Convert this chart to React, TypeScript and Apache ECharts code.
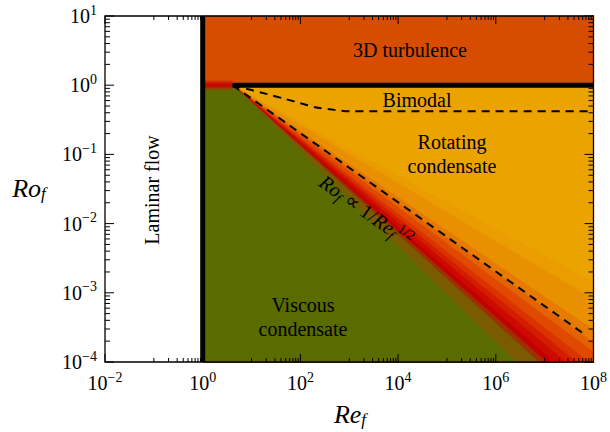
import React, { useEffect, useRef } from 'react';
import * as echarts from 'echarts';

const SERIF = 'Liberation Serif';

// axis decades (exponents of the major tick labels)
const reExponents = [-2, 0, 2, 4, 6, 8];
const roExponents = [-4, -3, -2, -1, 0, 1];
const minorMultipliers = [2, 3, 4, 5, 6, 7, 8, 9];

// regime boundaries
const laminarRe = 1; // Re_f below which the flow is laminar
const turbulenceRo = 1; // Ro_f above which 3D turbulence
const cornerRe = 4.1; // Re_f where the Ro_f = 1 boundary starts

// bimodal boundary (dashed)
const bimodalRe = [4.1, 10, 20, 50, 100, 200, 500, 1000, 1e8];
const bimodalRo = [1, 0.85, 0.75, 0.63, 0.55, 0.48, 0.44, 0.42, 0.42];

// Ro_f ∝ Re_f^-1/2 scaling (dashed)
const scalingRe = [4.1, 7.2e7];
const scalingRo = [1, 2.4e-4];

// condensate transition bands: where each boundary meets the right / bottom edge
const bandEndRe = [1e8, 1e8, 1e8, 1e8, 1e8, 7.9e7, 4.5e7, 2.7e7, 1.6e7, 1.1e7, 7.6e6, 2.6e6];
const bandEndRo = [1.4e-3, 8e-4, 2.9e-4, 1.9e-4, 1.4e-4, 1e-4, 1e-4, 1e-4, 1e-4, 1e-4, 1e-4, 1e-4];
const bandColors = ['#EA9C00', '#E89000', '#E67B00', '#E36300', '#E04A00', '#DB3300', '#D41C00', '#CC0A00', '#C20000', '#A02E00', '#7B5B00', '#5A6B00'];

// transition strip just around Ro_f = 1 for laminarRe < Re_f < cornerRe
const stripRo = [1.2, 0.8];

const turbulenceColor = '#D64C00';
const rotatingColor = '#EBA300';

const L = Math.log10;
const xMin = reExponents[0];
const xMax = reExponents[reExponents.length - 1];
const yMin = roExponents[0];
const yMax = roExponents[roExponents.length - 1];

type Poly = { pts: number[][]; fill: any; stroke?: string };

function buildPolys(): Poly[] {
  const polys: Poly[] = [];
  const x0 = L(laminarRe);
  const y1 = L(turbulenceRo);
  polys.push({ pts: [[x0, y1], [xMax, y1], [xMax, yMax], [x0, yMax]], fill: turbulenceColor, stroke: turbulenceColor });
  polys.push({ pts: [[x0, y1], [xMax, y1], [xMax, yMin], [x0, yMin]], fill: rotatingColor, stroke: rotatingColor });
  bandEndRe.forEach((re, i) => {
    const end = [L(re), L(bandEndRo[i])];
    const pts = [[L(cornerRe), y1], end];
    if (end[0] >= xMax - 1e-9 && end[1] > yMin + 1e-9) pts.push([xMax, yMin]);
    pts.push([x0, yMin], [x0, y1]);
    polys.push({ pts, fill: bandColors[i], stroke: bandColors[i] });
  });
  const grad = new echarts.graphic.LinearGradient(0, 0, 0, 1, [
    { offset: 0, color: turbulenceColor },
    { offset: 0.25, color: '#CC1800' },
    { offset: 0.5, color: '#C40000' },
    { offset: 0.7, color: '#9A3A00' },
    { offset: 0.86, color: '#6C6200' },
    { offset: 1, color: '#5A6B00' },
  ]);
  polys.push({
    pts: [[x0, L(stripRo[0])], [L(cornerRe), L(stripRo[0])], [L(cornerRe), L(stripRo[1])], [x0, L(stripRo[1])]],
    fill: grad,
  });
  return polys;
}

function buildTicks() {
  const xt: [number, boolean][] = [];
  reExponents.forEach((e) => xt.push([e, true]));
  for (let i = 0; i < reExponents.length - 1; i++) {
    const odd = reExponents[i] + 1;
    [1, ...minorMultipliers].forEach((m) => xt.push([odd + L(m), false]));
  }
  const yt: [number, boolean][] = [];
  roExponents.forEach((e) => yt.push([e, true]));
  for (let i = 0; i < roExponents.length - 1; i++) {
    minorMultipliers.forEach((m) => yt.push([roExponents[i] + L(m), false]));
  }
  return { xt, yt };
}

const labelRich = {
  b: { fontFamily: SERIF, fontSize: 20, lineHeight: 26, color: '#000' },
  s: { fontFamily: SERIF, fontSize: 14, lineHeight: 12, verticalAlign: 'top', color: '#000' },
};
const fmtPow = (v: number) => `{b|10}{s|${v < 0 ? '\u2212' + Math.abs(v) : v}}`;

const txt = (text: string, x: number, y: number, extra: any = {}) => ({
  type: 'text',
  x,
  y,
  z: 100,
  silent: true,
  ...extra,
  style: {
    text,
    fill: '#000',
    fontFamily: SERIF,
    fontSize: 20,
    lineHeight: 24,
    align: 'center',
    verticalAlign: 'middle',
    ...(extra.style || {}),
  },
});

export default function App() {
  const ref = useRef<HTMLDivElement>(null);
  useEffect(() => {
    if (!ref.current) return;
    const chart = echarts.init(ref.current, undefined, { renderer: 'svg' });
    const polys = buildPolys();
    const { xt, yt } = buildTicks();
    const italicRich = {
      i: { fontFamily: SERIF, fontStyle: 'italic', fontSize: 26, lineHeight: 28, color: '#000' },
      sub: { fontFamily: SERIF, fontStyle: 'italic', fontSize: 17, lineHeight: 20, verticalAlign: 'bottom', color: '#000' },
    };
    const formulaRich = {
      i: { fontFamily: SERIF, fontStyle: 'italic', fontSize: 20, lineHeight: 26, color: '#000' },
      n: { fontFamily: SERIF, fontSize: 20, lineHeight: 26, color: '#000' },
      sub: { fontFamily: SERIF, fontStyle: 'italic', fontSize: 14, lineHeight: 14, verticalAlign: 'bottom', color: '#000' },
      sup: { fontFamily: SERIF, fontSize: 14, lineHeight: 12, verticalAlign: 'top', color: '#000' },
    };
    chart.setOption({
      animation: false,
      backgroundColor: '#fff',
      grid: { left: 105, right: 14, top: 16, bottom: 70, containLabel: false },
      xAxis: {
        type: 'value',
        min: xMin,
        max: xMax,
        interval: 2,
        axisLine: { show: false },
        axisTick: { show: false },
        splitLine: { show: false },
        axisLabel: { margin: 8, formatter: fmtPow, rich: labelRich },
      },
      yAxis: {
        type: 'value',
        min: yMin,
        max: yMax,
        interval: 1,
        axisLine: { show: false },
        axisTick: { show: false },
        splitLine: { show: false },
        axisLabel: { margin: 8, formatter: fmtPow, rich: labelRich },
      },
      series: [
        {
          type: 'custom',
          name: 'regions',
          z: 1,
          silent: true,
          clip: false,
          data: polys.map(() => [0, 0]),
          renderItem: (params: any, api: any) => {
            const p = polys[params.dataIndex];
            return {
              type: 'polygon',
              shape: { points: p.pts.map((q) => api.coord(q)) },
              style: { fill: p.fill, stroke: p.stroke || null, lineWidth: p.stroke ? 0.6 : 0 },
            };
          },
        },
        {
          type: 'line',
          name: 'bimodal',
          z: 3,
          silent: true,
          symbol: 'none',
          smooth: 0.3,
          data: bimodalRe.map((re, i) => [L(re), L(bimodalRo[i])]),
          lineStyle: { color: '#000', width: 2, type: [8, 6] },
        },
        {
          type: 'line',
          name: 'scaling',
          z: 3,
          silent: true,
          symbol: 'none',
          data: scalingRe.map((re, i) => [L(re), L(scalingRo[i])]),
          lineStyle: { color: '#000', width: 2, type: [8, 6] },
        },
        {
          type: 'line',
          name: 'laminar boundary',
          z: 4,
          silent: true,
          symbol: 'none',
          data: [[L(laminarRe), yMin], [L(laminarRe), yMax]],
          lineStyle: { color: '#000', width: 5, cap: 'butt' },
        },
        {
          type: 'line',
          name: 'turbulence boundary',
          z: 4,
          silent: true,
          symbol: 'none',
          data: [[L(cornerRe), L(turbulenceRo)], [xMax, L(turbulenceRo)]],
          lineStyle: { color: '#000', width: 5, cap: 'butt' },
        },
        {
          type: 'custom',
          name: 'frame',
          z: 6,
          silent: true,
          clip: false,
          data: [[0, 0]],
          renderItem: (_params: any, api: any) => {
            const tl = api.coord([xMin, yMax]);
            const br = api.coord([xMax, yMin]);
            const children: any[] = [];
            const add = (x1: number, y1: number, x2: number, y2: number) =>
              children.push({ type: 'line', shape: { x1, y1, x2, y2 }, style: { stroke: '#000', lineWidth: 1 } });
            xt.forEach(([v, major]) => {
              const x = api.coord([v, yMin])[0];
              const len = major ? 8 : 4;
              add(x, br[1], x, br[1] - len);
              add(x, tl[1], x, tl[1] + len);
            });
            yt.forEach(([v, major]) => {
              const y = api.coord([xMin, v])[1];
              const len = major ? 9 : 5;
              add(tl[0], y, tl[0] + len, y);
              add(br[0], y, br[0] - len, y);
            });
            children.push({
              type: 'rect',
              shape: { x: tl[0], y: tl[1], width: br[0] - tl[0], height: br[1] - tl[1] },
              style: { fill: 'none', stroke: '#000', lineWidth: 1.3 },
            });
            return { type: 'group', children };
          },
        },
      ],
      graphic: [
        txt('3D turbulence', 410, 50),
        txt('Bimodal', 417, 100),
        txt('Rotating\ncondensate', 452, 154),
        txt('Viscous\ncondensate', 303, 317),
        txt('Laminar flow', 152, 190, { rotation: Math.PI / 2 }),
        txt('{i|Ro}{sub|f}{n| \u221D 1/}{i|Re}{sub|f}{sup|1/2}', 366, 211, {
          rotation: -0.616,
          style: { rich: formulaRich },
        }),
        txt('{i|Ro}{sub|f}', 29, 188, { style: { rich: italicRich } }),
        txt('{i|Re}{sub|f}', 350, 414, { style: { rich: italicRich } }),
      ],
    });
    return () => chart.dispose();
  }, []);
  return <div ref={ref} style={{ position: 'fixed', left: 0, top: 0, width: 610, height: 432 }} />;
}
